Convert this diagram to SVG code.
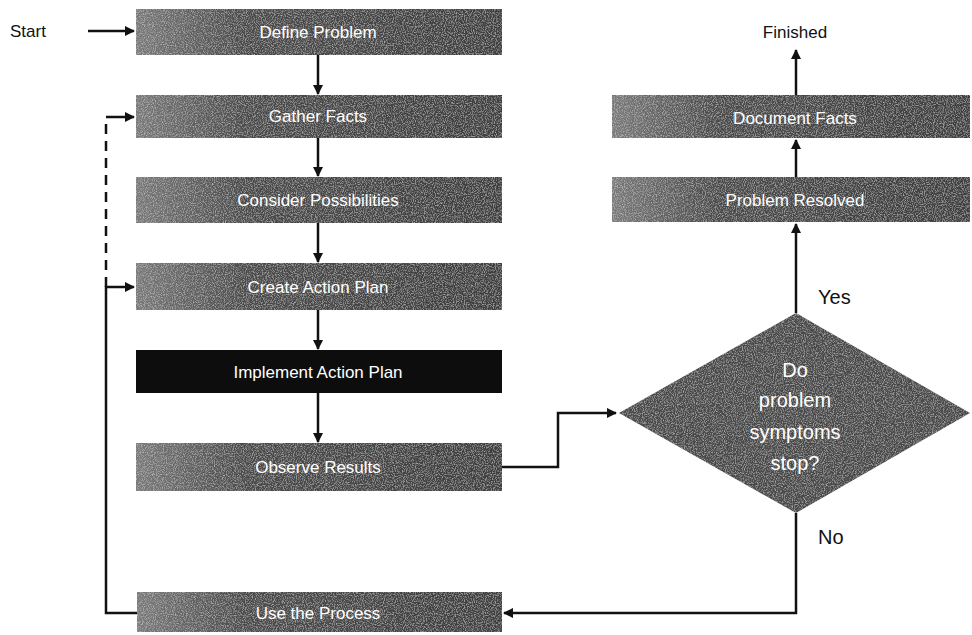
<svg xmlns="http://www.w3.org/2000/svg" width="972" height="635" viewBox="0 0 972 635">
<style>
.box{fill:url(#g);}
.lbl{font-family:"Liberation Sans",Arial,sans-serif;font-size:17px;fill:#fff;text-anchor:middle;}
.dl{font-size:20px;}
.txt{font-family:"Liberation Sans",Arial,sans-serif;font-size:17px;fill:#111;}
.big{font-size:20px;}
.ln{fill:none;stroke:#111;stroke-width:2.5;}
</style>
<defs>
<linearGradient id="g" x1="0" y1="0" x2="1" y2="0">
<stop offset="0" stop-color="#7a7a7a"/>
<stop offset="0.3" stop-color="#4a4a4a"/>
<stop offset="1" stop-color="#3e3e3e"/>
</linearGradient>
<filter id="grain" x="0" y="0" width="1" height="1">
<feTurbulence type="fractalNoise" baseFrequency="0.9" numOctaves="2" seed="3" result="n"/>
<feColorMatrix in="n" type="matrix" values="0 0 0 0 1  0 0 0 0 1  0 0 0 0 1  0.9 0 0 0 -0.4" result="w"/>
<feComposite in="w" in2="SourceGraphic" operator="in" result="wc"/>
<feMerge><feMergeNode in="SourceGraphic"/><feMergeNode in="wc"/></feMerge>
</filter>
<marker id="ah" viewBox="0 0 10 10" refX="9" refY="5" markerWidth="4" markerHeight="4" orient="auto-start-reverse">
<path d="M0,0 L10,5 L0,10 z" fill="#111"/>
</marker>
</defs>

<g id="connectors">
<line class="ln" x1="88" y1="31" x2="134" y2="31" stroke-width="3.5" marker-end="url(#ah)"/>
<line class="ln" x1="318" y1="55" x2="318" y2="94" marker-end="url(#ah)"/>
<line class="ln" x1="318" y1="138" x2="318" y2="176" marker-end="url(#ah)"/>
<line class="ln" x1="318" y1="223" x2="318" y2="262" marker-end="url(#ah)"/>
<line class="ln" x1="318" y1="310" x2="318" y2="349" marker-end="url(#ah)"/>
<line class="ln" x1="318" y1="393" x2="318" y2="442" marker-end="url(#ah)"/>
<polyline class="ln" points="502,467 558,467 558,413 616,413" marker-end="url(#ah)"/>
<line class="ln" x1="796" y1="313" x2="796" y2="224" marker-end="url(#ah)"/>
<line class="ln" x1="796" y1="177" x2="796" y2="140" marker-end="url(#ah)"/>
<line class="ln" x1="796" y1="95" x2="796" y2="50" marker-end="url(#ah)"/>
<polyline class="ln" points="796,513 796,613 504,613" marker-end="url(#ah)"/>
<polyline class="ln" points="137,613 106,613 106,287 134,287" marker-end="url(#ah)"/>
<line class="ln" x1="106" y1="287" x2="106" y2="117" stroke-dasharray="10,7"/>
<line class="ln" x1="106" y1="117" x2="134" y2="117" marker-end="url(#ah)"/>
</g>

<text class="txt" x="10" y="37">Start</text>
<text class="txt" x="795" y="38" text-anchor="middle">Finished</text>
<text class="txt big" x="818" y="304">Yes</text>
<text class="txt big" x="818" y="544">No</text>

<g id="define-problem">
<rect class="box" x="136" y="9" width="366" height="46" filter="url(#grain)"/>
<text class="lbl" x="318" y="38">Define Problem</text>
</g>
<g id="gather-facts">
<rect class="box" x="136" y="95" width="366" height="43" filter="url(#grain)"/>
<text class="lbl" x="318" y="122">Gather Facts</text>
</g>
<g id="consider-possibilities">
<rect class="box" x="136" y="177" width="366" height="46" filter="url(#grain)"/>
<text class="lbl" x="318" y="206">Consider Possibilities</text>
</g>
<g id="create-action-plan">
<rect class="box" x="136" y="263" width="366" height="47" filter="url(#grain)"/>
<text class="lbl" x="318" y="293">Create Action Plan</text>
</g>
<g id="implement-action-plan">
<rect x="136" y="350" width="366" height="43" fill="#0d0d0d"/>
<text class="lbl" x="318" y="378">Implement Action Plan</text>
</g>
<g id="observe-results">
<rect class="box" x="136" y="443" width="366" height="48" filter="url(#grain)"/>
<text class="lbl" x="318" y="473">Observe Results</text>
</g>
<g id="use-the-process">
<rect class="box" x="137" y="592" width="365" height="40" filter="url(#grain)"/>
<text class="lbl" x="318" y="619">Use the Process</text>
</g>
<g id="document-facts">
<rect class="box" x="612" y="95" width="358" height="43" filter="url(#grain)"/>
<text class="lbl" x="795" y="124">Document Facts</text>
</g>
<g id="problem-resolved">
<rect class="box" x="612" y="177" width="358" height="45" filter="url(#grain)"/>
<text class="lbl" x="795" y="206">Problem Resolved</text>
</g>
<g id="decision">
<polygon points="796,313 970,413 796,513 619,413" fill="#4a4a4a" filter="url(#grain)"/>
<text class="lbl dl" x="795" y="377">Do</text>
<text class="lbl dl" x="795" y="407">problem</text>
<text class="lbl dl" x="795" y="439">symptoms</text>
<text class="lbl dl" x="795" y="470">stop?</text>
</g>
</svg>
